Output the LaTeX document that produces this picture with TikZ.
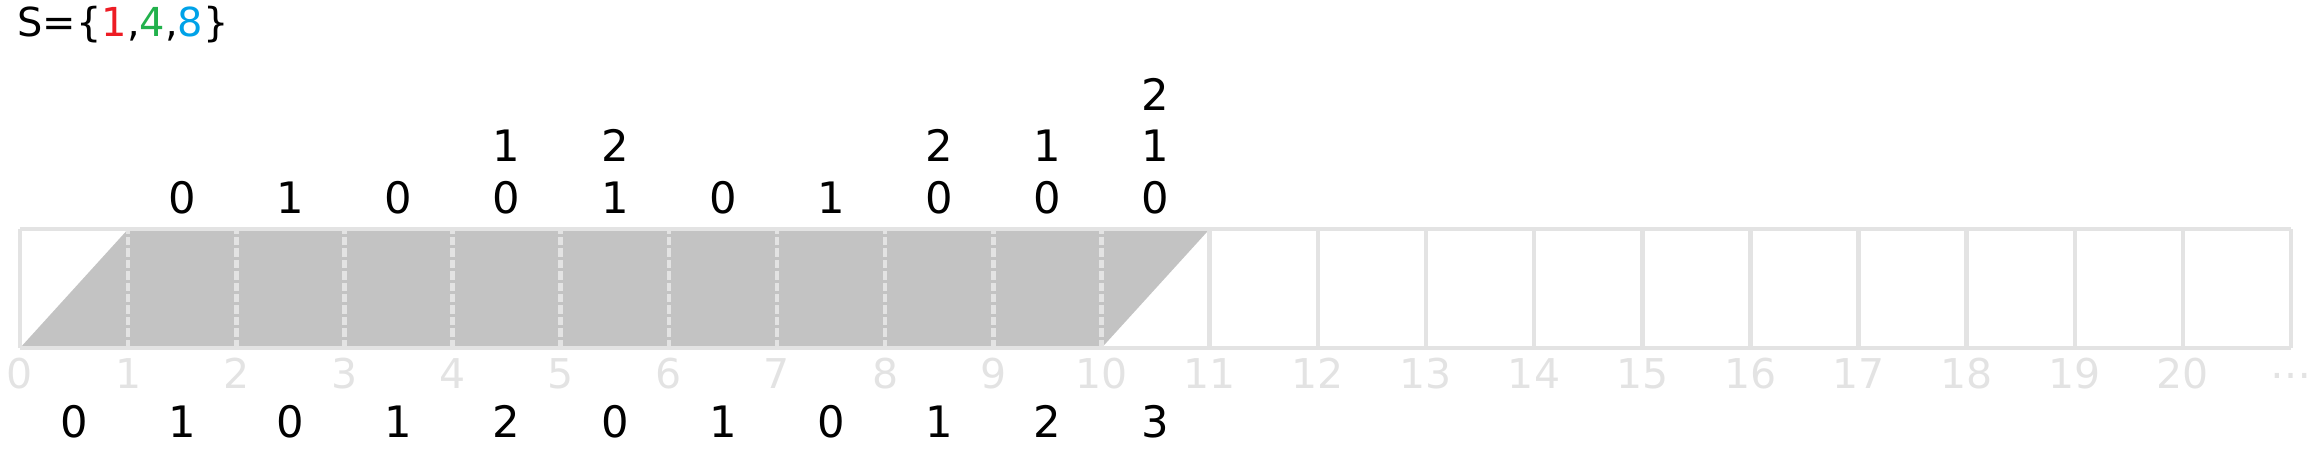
\documentclass[tikz,border=0pt]{standalone}
\usepackage{fontspec}
\setmainfont{DejaVu Sans}
\usepackage{xcolor}
\definecolor{paintred}{RGB}{237,28,36}
\definecolor{paintgreen}{RGB}{34,177,76}
\definecolor{paintblue}{RGB}{0,162,232}
\definecolor{cellgray}{RGB}{195,195,195}
\definecolor{linegray}{RGB}{227,227,227}

\begin{document}
\begin{tikzpicture}
\tikzstyle{tally}=[inner sep=0pt,anchor=base,font=\fontsize{11.4}{13}\selectfont]
\tikzstyle{idx}=[inner sep=0pt,anchor=base,text=linegray,font=\fontsize{10.8}{12}\selectfont]
\tikzset{gridline/.style={draw=linegray,line width=1.2pt}}

\useasboundingbox (-0.185,-0.962) rectangle (21.295,3.218);

\node[inner sep=0pt,anchor=base west,font=\fontsize{10.5}{12}\selectfont](set) at (-0.03,2.876)
  {S=\{\textcolor{paintred}{1},\textcolor{paintgreen}{4},\textcolor{paintblue}{8}\}};

% shaded band
\coordinate (s0) at (0,0);
\coordinate (s1) at (1,1.1);
\coordinate (s11) at (11,1.1);
\coordinate (s10) at (10,0);
\fill[cellgray] (s0) -- (s1) -- (s11) -- (s10) -- cycle;

% cells
\draw[gridline] (0,0) -- (21,0);
\draw[gridline] (0,1.1) -- (21,1.1);
\draw[gridline] (0,0) -- (0,1.1);
\foreach \x in {11,...,21} \draw[gridline] (\x,0) -- (\x,1.1);
\foreach \x in {1,...,10} \draw[gridline,dash pattern=on 2.2pt off 0.8pt] (\x,0) -- (\x,1.1);

% positions
\foreach \i in {0,...,20} \node[idx](i\i) at (\i,-0.37){\i};
\node[idx](idots) at (21,-0.37){\raisebox{2.6pt}{…}};

% counts below and above
\foreach \d [count=\i from 0] in {0,1,0,1,2,0,1,0,1,2,3}
  \node[tally](b\i) at (\i+0.5,-0.823){\d};
\foreach \c/\r/\d in {1/0/0,2/0/1,3/0/0,4/0/0,4/1/1,5/0/1,5/1/2,6/0/0,7/0/1,
    8/0/0,8/1/2,9/0/0,9/1/1,10/0/0,10/1/1,10/2/2}
  \node[tally](t\c-\r) at (\c+0.5,1.248+0.476*\r){\d};
\end{tikzpicture}
\end{document}
